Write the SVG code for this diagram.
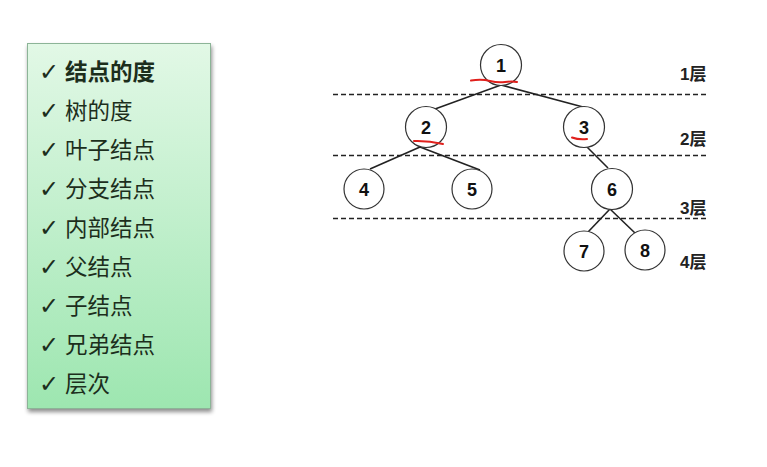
<svg xmlns="http://www.w3.org/2000/svg" width="767" height="467" viewBox="0 0 767 467">
<defs>
<linearGradient id="g" x1="0" y1="0" x2="0" y2="1">
<stop offset="0" stop-color="#e2f8e6"/>
<stop offset="1" stop-color="#9de6b0"/>
</linearGradient>
<filter id="sh" x="-10%" y="-5%" width="125%" height="115%">
<feGaussianBlur in="SourceAlpha" stdDeviation="2"/>
<feOffset dx="1" dy="3" result="b"/>
<feComponentTransfer><feFuncA type="linear" slope="0.45"/></feComponentTransfer>
<feMerge><feMergeNode/><feMergeNode in="SourceGraphic"/></feMerge>
</filter>
</defs>
<style>
.item{font-family:"Liberation Sans","Noto Sans CJK SC",sans-serif;font-size:22.5px;fill:#1c2e1c;}
.ck{font-family:"DejaVu Sans",sans-serif;font-size:24px;fill:#1c2e1c;}
.n circle{fill:#fff;stroke:#333;stroke-width:1.2;}
.n text{font-family:"Liberation Sans",Arial,sans-serif;font-size:18px;font-weight:bold;fill:#111;text-anchor:middle;}
.lv{font-family:"Liberation Sans","Noto Sans CJK SC",sans-serif;font-size:17px;font-weight:bold;fill:#222;}
.dash{stroke:#222;stroke-width:1.5;stroke-dasharray:5,3;}
.edge{stroke:#222;stroke-width:1.6;fill:none;}
.red{stroke:#e0201c;stroke-width:2;fill:none;stroke-linecap:round;}
</style>
<rect width="767" height="467" fill="#fff"/>
<g id="list">
<rect x="27.5" y="43.5" width="183" height="365" fill="url(#g)" stroke="#8cb497" stroke-width="1" filter="url(#sh)"/>
<g class="ck">
<text x="39" y="80">✓</text>
<text x="39" y="119">✓</text>
<text x="39" y="158">✓</text>
<text x="39" y="197">✓</text>
<text x="39" y="236">✓</text>
<text x="39" y="275">✓</text>
<text x="39" y="314">✓</text>
<text x="39" y="353">✓</text>
<text x="39" y="392">✓</text>
</g>
<text class="item" x="65" y="80" font-weight="bold">结点的度</text>
<text class="item" x="65" y="119">树的度</text>
<text class="item" x="65" y="158">叶子结点</text>
<text class="item" x="65" y="197">分支结点</text>
<text class="item" x="65" y="236">内部结点</text>
<text class="item" x="65" y="275">父结点</text>
<text class="item" x="65" y="314">子结点</text>
<text class="item" x="65" y="353">兄弟结点</text>
<text class="item" x="65" y="392">层次</text>
</g>
<g id="levels">
<line class="dash" x1="333" y1="94.5" x2="708" y2="94.5"/>
<line class="dash" x1="333" y1="155.5" x2="708" y2="155.5"/>
<line class="dash" x1="333" y1="218.5" x2="708" y2="218.5"/>
<text class="lv" x="680" y="80">1层</text>
<text class="lv" x="680" y="145">2层</text>
<text class="lv" x="680" y="214">3层</text>
<text class="lv" x="680" y="268">4层</text>
</g>
<g id="connectors">
<line class="edge" x1="501" y1="85" x2="435" y2="109"/>
<line class="edge" x1="501" y1="85" x2="583" y2="107"/>
<line class="edge" x1="420" y1="147" x2="370" y2="169"/>
<line class="edge" x1="420" y1="147" x2="480" y2="170"/>
<line class="edge" x1="587" y1="147" x2="608" y2="168"/>
<line class="edge" x1="610" y1="209" x2="588" y2="232"/>
<line class="edge" x1="610" y1="209" x2="635" y2="233"/>
</g>
<g id="node1" class="n"><circle cx="501" cy="65" r="20.5"/><text x="501" y="71.5">1</text></g>
<g id="node2" class="n"><circle cx="426" cy="127" r="20.5"/><text x="426" y="133.5">2</text></g>
<g id="node3" class="n"><circle cx="584" cy="127" r="20.5"/><text x="584" y="133.5">3</text></g>
<g id="node4" class="n"><circle cx="364" cy="189" r="20"/><text x="364" y="195.5">4</text></g>
<g id="node5" class="n"><circle cx="472" cy="189" r="20"/><text x="472" y="195.5">5</text></g>
<g id="node6" class="n"><circle cx="612" cy="189" r="20.5"/><text x="612" y="195.5">6</text></g>
<g id="node7" class="n"><circle cx="584" cy="251" r="20"/><text x="584" y="257.5">7</text></g>
<g id="node8" class="n"><circle cx="645" cy="250" r="20"/><text x="645" y="256.5">8</text></g>
<g id="marks">
<path class="red" d="M471 80.5 Q482 79 490 81 T505 82 T517 82"/>
<path class="red" d="M414 141 Q428 140.5 443 144"/>
<path class="red" d="M572 137.5 Q579 140 587 139"/>
</g>
</svg>
